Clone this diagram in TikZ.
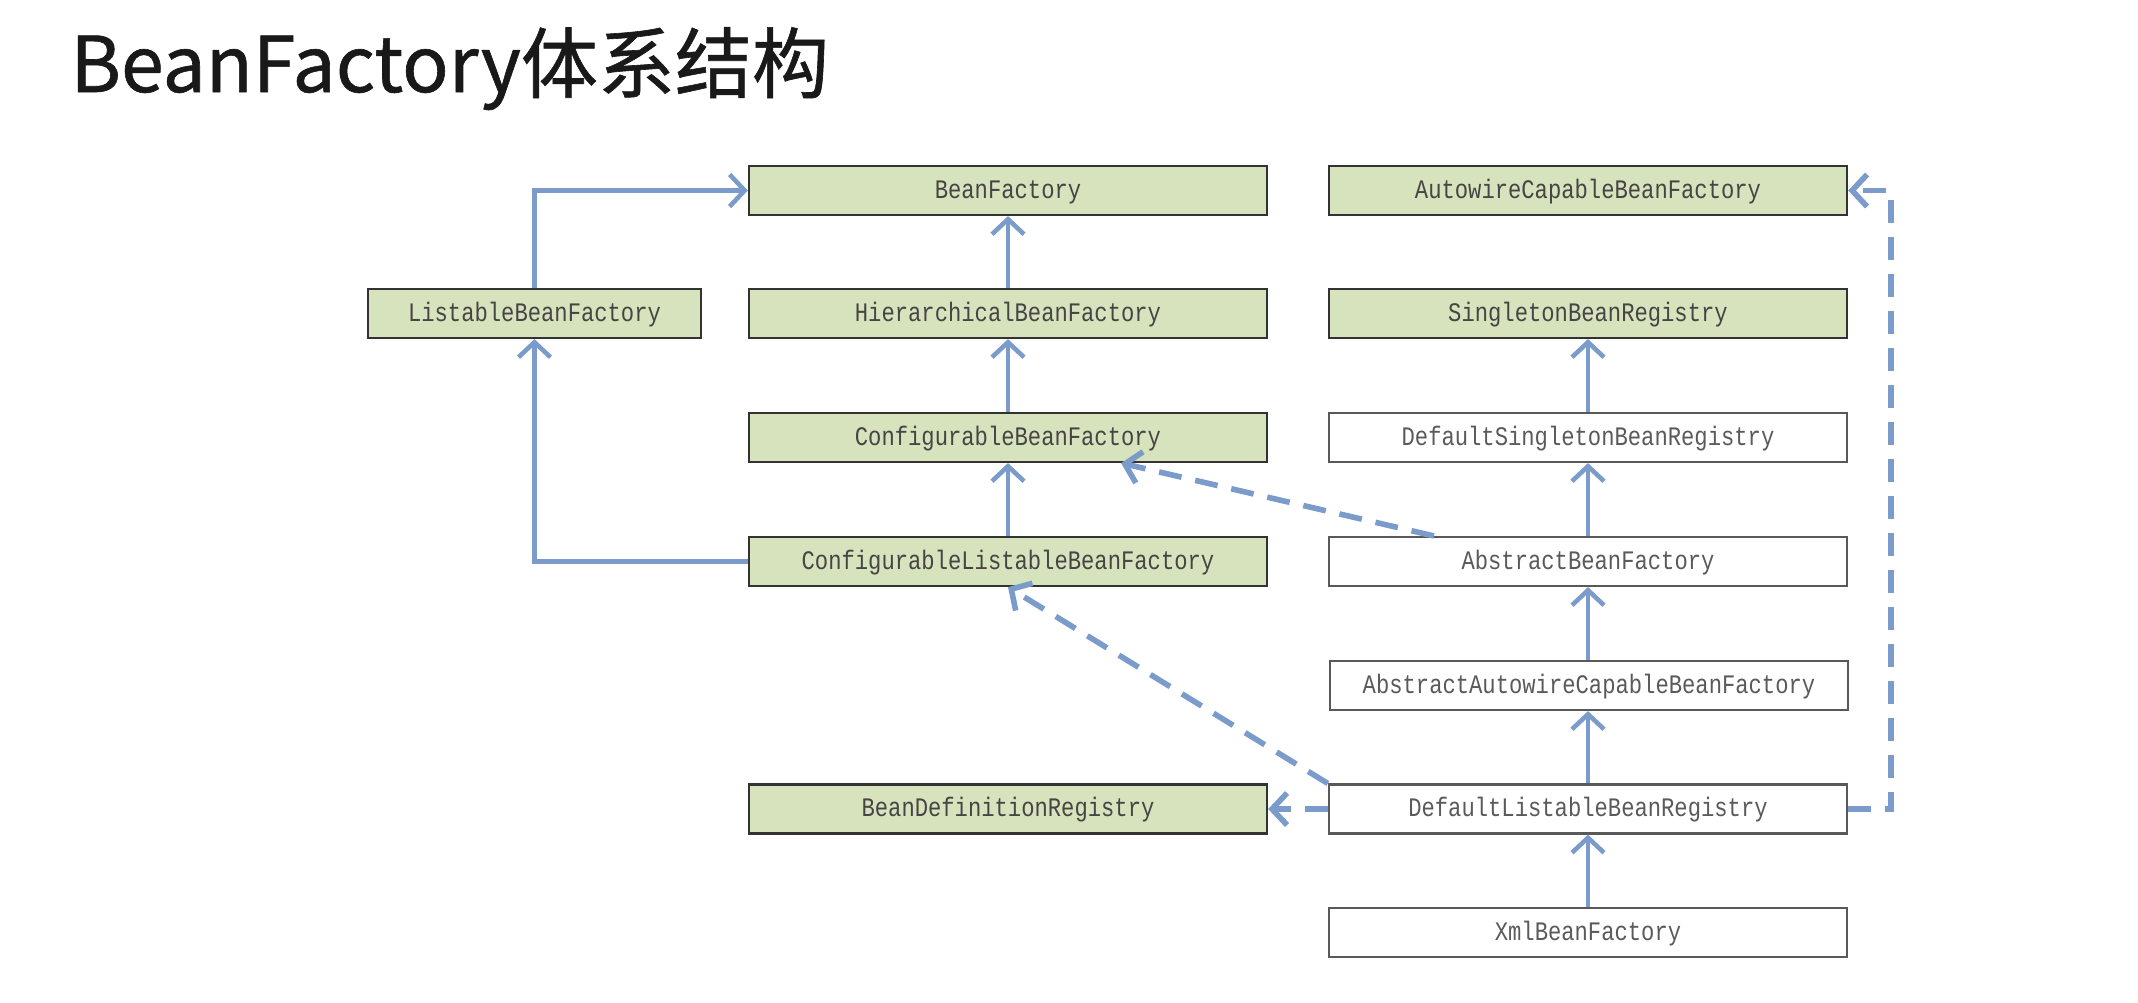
\documentclass[tikz,border=0pt]{standalone}
\usepackage{fontspec}
\usepackage{xcolor}
\usepackage{tikz}
\usetikzlibrary{arrows.meta}
\newfontfamily\titlefont[FakeBold=0.8]{Noto Sans CJK SC}
\newfontfamily\boxfont[FakeStretch=0.83]{Liberation Mono}
\definecolor{ifacegreen}{HTML}{D7E3BC}
\definecolor{linkblue}{HTML}{7B9BCB}
\definecolor{boxtext}{HTML}{454545}
\definecolor{impltext}{HTML}{5A5A5A}

\tikzset{
  iface/.style={draw=black!80, line width=0.6pt, fill=ifacegreen, text=boxtext,
    minimum width=5.18cm, minimum height=0.49cm, inner sep=0pt,
    text height=0.15cm, text depth=0cm,
    font=\boxfont\fontsize{7.6}{9}\selectfont},
  impl/.style={iface, draw=black!65, fill=white, text=impltext},
  inherit/.style={draw=linkblue, line width=1.3pt,
    -{Straight Barb[length=1.5mm,width=3.2mm]}},
  realize/.style={inherit, line width=1.6pt, dash pattern=on 0.23cm off 0.14cm}
}

\begin{document}
\begin{tikzpicture}[x=0.01cm,y=-0.01cm]
\useasboundingbox (0,0) rectangle (2138,1002);
\node[anchor=base west, font=\titlefont\fontsize{21.9}{26}\selectfont, text=black!90] (title) at (58,92) {BeanFactory体系结构};

\node[iface] (bf) at (1008,190.5) {BeanFactory};
\node[iface, minimum width=3.33cm] (lbf) at (534.5,313.5) {ListableBeanFactory};
\node[iface] (hbf) at (1008,313.5) {HierarchicalBeanFactory};
\node[iface] (cbf) at (1008,437.5) {ConfigurableBeanFactory};
\node[iface] (clbf) at (1008,561.5) {ConfigurableListableBeanFactory};
\node[iface] (bdr) at (1008,809) {BeanDefinitionRegistry};

\node[iface] (acbf) at (1588,190.5) {AutowireCapableBeanFactory};
\node[iface] (sbr) at (1588,313.5) {SingletonBeanRegistry};
\node[impl] (dsbr) at (1588,437.5) {DefaultSingletonBeanRegistry};
\node[impl] (abf) at (1588,561.5) {AbstractBeanFactory};
\node[impl] (aacbf) at (1589,685.5) {AbstractAutowireCapableBeanFactory};
\node[impl] (dlbr) at (1588,809) {DefaultListableBeanRegistry};
\node[impl] (xbf) at (1588,932.5) {XmlBeanFactory};

\draw[inherit] (hbf) -- (bf);
\draw[inherit] (cbf) -- (hbf);
\draw[inherit] (clbf) -- (cbf);
\draw[inherit] (lbf.north) |- (bf.west);
\draw[inherit] (clbf.west) -| (lbf.south);

\draw[inherit] (dsbr) -- (sbr);
\draw[inherit] (abf) -- (dsbr);
\draw[inherit] (aacbf.north -| abf.south) -- (abf);
\draw[inherit] (dlbr) -- (aacbf.south -| dlbr.north);
\draw[inherit] (xbf) -- (dlbr);

\draw[realize] ([xshift=-1.54cm]abf.north) -- ([xshift=1.13cm]cbf.south);
\draw[realize] (dlbr.north west) -- (clbf.south);
\draw[realize] (dlbr.west) -- (bdr.east);
\draw[realize] (dlbr.east) -- ++(43,0) |- (acbf.east);
\end{tikzpicture}
\end{document}
